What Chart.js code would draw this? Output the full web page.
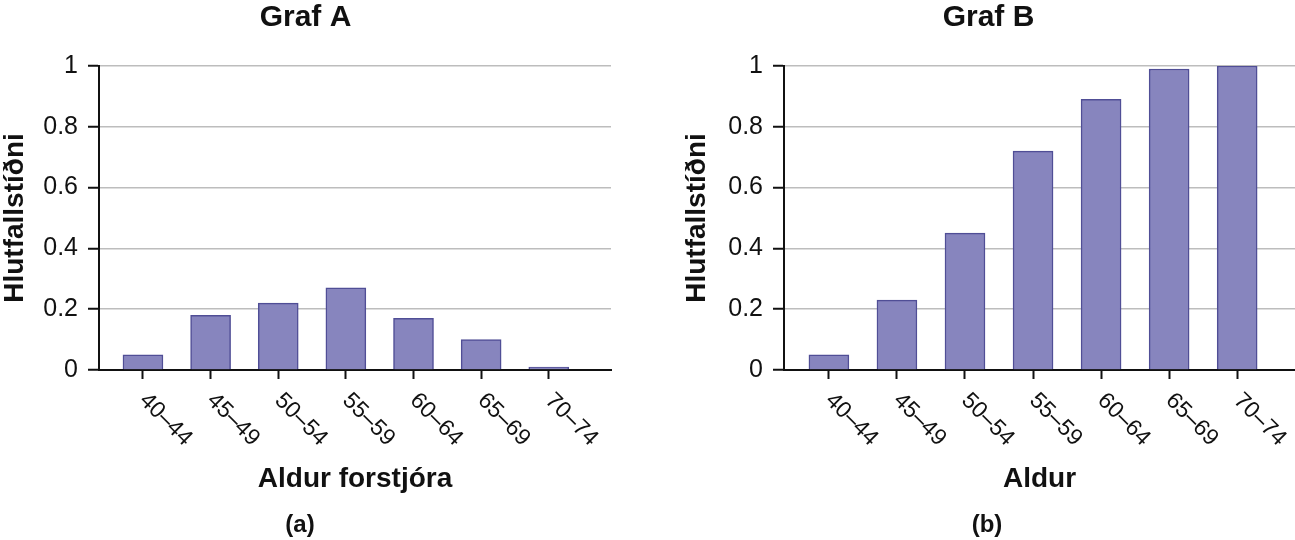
<!DOCTYPE html>
<html>
<head>
<meta charset="utf-8">
<script src="https://cdn.jsdelivr.net/npm/chart.js@4"></script>
<style>
  html, body { margin: 0; padding: 0; background: #fff; overflow: hidden; }
  #page { position: relative; width: 1295px; height: 540px; overflow: hidden; }
  .box { position: absolute; top: 0; height: 540px; }
  .cap { position: absolute; top: 510px; font: bold 24px "Liberation Sans", Arial, sans-serif; color: #111; transform: translateX(-50%); }
</style>
</head>
<body>
<div id="page">
  <div class="box" style="left:0; width:616px;"><canvas id="chartA"></canvas></div>
  <div class="box" style="left:682px; width:634px;"><canvas id="chartB"></canvas></div>
  <div class="cap" style="left:300px;">(a)</div>
  <div class="cap" style="left:987px;">(b)</div>
</div>
<script>
// Aldursflokkar
const ageGroups = ['40–44', '45–49', '50–54', '55–59', '60–64', '65–69', '70–74'];

// Graf A: hlutfallstíðni eftir aldri forstjóra
const valuesA = [0.05, 0.18, 0.22, 0.27, 0.17, 0.10, 0.01];

// Graf B: uppsöfnuð hlutfallstíðni
const valuesB = [0.05, 0.23, 0.45, 0.72, 0.89, 0.99, 1.00];

const yTicks = [0, 0.2, 0.4, 0.6, 0.8, 1];

Chart.defaults.font.family = '"Liberation Sans", Arial, sans-serif';
Chart.defaults.color = '#111';

// Skáletraðir flokkar undir x-ás (hallast niður til hægri)
const slantedLabels = {
    id: 'slantedLabels',
    afterDraw(chart) {
        const xs = chart.scales.x;
        const ctx = chart.ctx;
        ctx.save();
        ctx.font = '23px "Liberation Sans", Arial, sans-serif';
        ctx.fillStyle = '#111';
        ctx.textAlign = 'left';
        ctx.textBaseline = 'middle';
        ageGroups.forEach((label, i) => {
            ctx.save();
            ctx.translate(xs.getPixelForValue(i), xs.top + 27);
            ctx.rotate(Math.PI / 4);
            ctx.fillText(label, 0, 0);
            ctx.restore();
        });
        ctx.restore();
    }
};

function createChart(id, title, xTitle, values, yWidth, xMin, xMax, padRight) {
    const ctx = document.getElementById(id).getContext('2d');
    return new Chart(ctx, {
        type: 'bar',
        data: {
            datasets: [{
                data: values.map((v, i) => ({ x: i, y: v })),
                backgroundColor: '#8785be',
                borderColor: '#504e96',
                borderWidth: 1.5,
                barThickness: 40
            }]
        },
        options: {
            responsive: true,
            maintainAspectRatio: false,
            animation: false,
            layout: { padding: { left: 0, right: padRight, top: 0, bottom: 0 } },
            plugins: {
                legend: { display: false },
                tooltip: { enabled: false },
                title: {
                    display: true,
                    text: title,
                    color: '#111',
                    font: { size: 30, weight: 'bold', lineHeight: 1.2 },
                    padding: { top: 0, bottom: 30 }
                }
            },
            scales: {
                x: {
                    type: 'linear',
                    offset: false,
                    min: xMin,
                    max: xMax,
                    afterBuildTicks: (s) => { s.ticks = ageGroups.map((c, i) => ({ value: i })); },
                    afterFit: (s) => { s.height = 170; },
                    ticks: { display: false },
                    grid: {
                        offset: false,
                        drawOnChartArea: false,
                        drawTicks: true,
                        tickLength: 9,
                        tickColor: '#111',
                        tickWidth: 2
                    },
                    border: { display: true, color: '#111', width: 2 },
                    title: {
                        display: true,
                        text: xTitle,
                        color: '#111',
                        font: { size: 28, weight: 'bold', lineHeight: 1.2 },
                        padding: { top: 0, bottom: 44 }
                    }
                },
                y: {
                    min: 0,
                    max: 1,
                    afterBuildTicks: (s) => { s.ticks = yTicks.map(v => ({ value: v })); },
                    afterFit: (s) => { s.width = yWidth; },
                    ticks: {
                        padding: 10,
                        color: '#111',
                        font: { size: 25 },
                        callback: (v) => String(+v.toFixed(1))
                    },
                    grid: {
                        color: (c) => (c.tick && c.tick.value === 0) ? 'rgba(0,0,0,0)' : '#bdbdbd',
                        lineWidth: 1.5,
                        drawTicks: true,
                        tickLength: 11,
                        tickColor: '#111',
                        tickWidth: 2
                    },
                    border: { display: true, color: '#111', width: 2 },
                    title: {
                        display: true,
                        text: 'Hlutfallstíðni',
                        color: '#111',
                        font: { size: 28, weight: 'bold', lineHeight: 1.1 },
                        padding: 0
                    }
                }
            }
        },
        plugins: [slantedLabels]
    });
}

createChart('chartA', 'Graf A', 'Aldur forstjóra', valuesA, 99, -0.65, 6.92, 5);
createChart('chartB', 'Graf B', 'Aldur', valuesB, 102, -0.66, 6.85, 21);
</script>
</body>
</html>
